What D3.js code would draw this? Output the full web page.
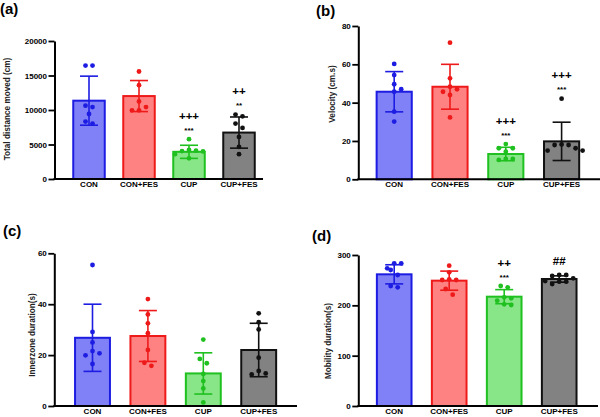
<!DOCTYPE html>
<html>
<head>
<meta charset="utf-8">
<script src="https://cdn.jsdelivr.net/npm/d3@7"></script>
<style>
  body { margin: 0; background: #fff; }
  svg { display: block; font-family: "Liberation Sans", Arial, sans-serif; }
</style>
</head>
<body>
<div id="viz"></div>
<script>
var groups = ["CON", "CON+FES", "CUP", "CUP+FES"];

// (a) total distance moved
var distMean = [11350, 12020, 3940, 6730];
var distSD = [3555, 2250, 950, 2260];
var distPoints = [
  [16440, 16440, 10625, 10430, 9420, 8320, 8030],
  [15577, 13600, 11250, 10430, 9950, 9950],
  [5770, 4200, 4100, 4050, 4000, 3600, 3000],
  [9330, 9090, 8030, 7400, 6100, 4660, 3600]
];
var distStars = ["", "", "***", "**"];
var distPlus = ["", "", "+++", "++"];
var distTicks = [0, 5000, 10000, 15000, 20000];

// (b) velocity
var velMean = [45.7, 48.3, 13.2, 19.8];
var velSD = [10.5, 11.7, 3.5, 10];
var velPoints = [
  [60.2, 54.4, 49.6, 47.0, 45.7, 35.3, 30.1],
  [71.3, 52.7, 48.3, 47.0, 45.7, 44.0, 32.3],
  [18.4, 16.2, 16.2, 14.4, 10.1, 10.6, 10.6],
  [42.1, 17.9, 18.2, 17.9, 15.0, 15.0, 16.2]
];
var velStars = ["", "", "***", "***"];
var velPlus = ["", "", "+++", "+++"];
var velTicks = [0, 20, 40, 60, 80];

// (c) innerzone duration
var innerMean = [26.8, 27.5, 12.8, 22.0];
var innerSD = [13.2, 10, 8.1, 10.5];
var innerPoints = [
  [55.4, 29.1, 25.0, 20.7, 21.6, 19.9, 16.5],
  [42.0, 36.0, 32.5, 28.6, 22.0, 15.8, 17.0],
  [26.1, 18.5, 16.8, 12.6, 9.8, 6.9, 1.4],
  [36.4, 32.9, 30.1, 19.0, 13.8, 12.4, 12.8]
];
var innerStars = ["", "", "", ""];
var innerPlus = ["", "", "", ""];
var innerTicks = [0, 20, 40, 60];

// (d) mobility duration
var mobMean = [261.6, 249, 217.2, 252.3];
var mobSD = [19, 19, 14, 6.3];
var mobPoints = [
  [283.4, 283.4, 273.5, 270.2, 260.3, 235.8, 238.4],
  [278.8, 265.6, 251.7, 250.3, 250.3, 232.5, 221.2],
  [235.8, 238.4, 215.9, 213.9, 209.3, 200.7, 202.0],
  [260.3, 260.3, 258.3, 253.6, 242.4, 247, 247, 248.3]
];
var mobStars = ["", "", "***", ""];
var mobPlus = ["", "", "++", "##"];
var mobTicks = [0, 100, 200, 300];

var fills = ["#8080f7", "#ff8282", "#88e688", "#828282"];
var strokes = ["#1c1ce2", "#ee1a1a", "#1fc01f", "#111111"];

var panels = [
  { tag: "(a)", mean: distMean, sd: distSD, pts: distPoints, stars: distStars, plus: distPlus, ticks: distTicks,
    title: "Total distance moved (cm)", x0: 54.5, x1: 263, band: [64, 264], yTop: 41, yBot: 179,
    titleX: 7, titleY: 109, tagX: 0, tagY: 14 },
  { tag: "(b)", mean: velMean, sd: velSD, pts: velPoints, stars: velStars, plus: velPlus, ticks: velTicks,
    title: "Velocity (cm.s)", x0: 358.3, x1: 600, band: [366.3, 589.5], yTop: 26, yBot: 179.3,
    titleX: 332, titleY: 94, tagX: 316, tagY: 16 },
  { tag: "(c)", mean: innerMean, sd: innerSD, pts: innerPoints, stars: innerStars, plus: innerPlus, ticks: innerTicks,
    title: "Innerzone duration(s)", x0: 54.3, x1: 297, band: [64.8, 286.4], yTop: 253.3, yBot: 406,
    titleX: 32.5, titleY: 335, tagX: 3, tagY: 236 },
  { tag: "(d)", mean: mobMean, sd: mobSD, pts: mobPoints, stars: mobStars, plus: mobPlus, ticks: mobTicks,
    title: "Mobility duration(s)", x0: 358.3, x1: 598, band: [366.7, 586.7], yTop: 255, yBot: 406,
    titleX: 328.5, titleY: 341, tagX: 312, tagY: 241 }
];

var svg = d3.select("#viz").append("svg")
  .attr("width", 600)
  .attr("height", 417);

// simple beeswarm, like the scatter of dots in GraphPad
function swarm(vals, y, s) {
  var order = vals.map(function (v) { return { v: v, py: y(v) }; })
    .sort(function (a, b) { return b.v - a.v; });
  var placed = [];
  order.forEach(function (p) {
    var cands = [0];
    for (var k = 1; k < 6; k++) cands.push(k * s, -k * s);
    for (var i = 0; i < cands.length; i++) {
      var c = cands[i];
      var hit = placed.some(function (q) {
        return Math.abs(q.dx - c) < s * 0.9 && Math.abs(q.py - p.py) < s * 0.9;
      });
      if (!hit) { p.dx = c; break; }
    }
    placed.push(p);
  });
  // centre pairs of side-by-side dots
  placed.forEach(function (p) {
    var row = placed.filter(function (q) { return Math.abs(q.py - p.py) < s * 0.9; });
    if (row.length == 2 && p.dx != 0 && row.every(function (q) { return q.dx == 0 || q == p; })) {
      row.forEach(function (q) { q.dx = q.dx == 0 ? -s / 2 : s / 2; });
    }
  });
  return placed;
}

function drawPanel(p) {
  var g = svg.append("g");
  var max = p.ticks[p.ticks.length - 1];
  var y = d3.scaleLinear().domain([0, max]).range([p.yBot, p.yTop]);
  var x = d3.scaleBand().domain(groups).range(p.band).paddingInner(0.37).paddingOuter(0.185);

  // bars
  g.selectAll("rect.bar").data(p.mean).enter().append("rect")
    .attr("x", function (d, i) { return x(groups[i]); })
    .attr("y", function (d) { return y(d); })
    .attr("width", x.bandwidth())
    .attr("height", function (d) { return p.yBot - y(d); })
    .attr("fill", function (d, i) { return fills[i]; })
    .attr("stroke", function (d, i) { return strokes[i]; })
    .attr("stroke-width", 2);

  // error bars
  var cap = 9;
  var eb = g.selectAll("g.err").data(p.mean).enter().append("g")
    .attr("stroke", function (d, i) { return strokes[i]; })
    .attr("stroke-width", 1.6);
  eb.append("line")
    .attr("x1", function (d, i) { return x(groups[i]) + x.bandwidth() / 2; })
    .attr("x2", function (d, i) { return x(groups[i]) + x.bandwidth() / 2; })
    .attr("y1", function (d, i) { return y(d - p.sd[i]); })
    .attr("y2", function (d, i) { return y(d + p.sd[i]); });
  [1, -1].forEach(function (sgn) {
    eb.append("line")
      .attr("x1", function (d, i) { return x(groups[i]) + x.bandwidth() / 2 - cap; })
      .attr("x2", function (d, i) { return x(groups[i]) + x.bandwidth() / 2 + cap; })
      .attr("y1", function (d, i) { return y(d + sgn * p.sd[i]); })
      .attr("y2", function (d, i) { return y(d + sgn * p.sd[i]); });
  });

  // dots
  p.pts.forEach(function (vals, i) {
    var cx = x(groups[i]) + x.bandwidth() / 2;
    g.selectAll(null).data(swarm(vals, y, 7)).enter().append("circle")
      .attr("cx", function (d) { return cx + d.dx; })
      .attr("cy", function (d) { return d.py; })
      .attr("r", 2.4)
      .attr("fill", strokes[i]);

    // significance marks
    var top = y(Math.max(d3.max(vals), p.mean[i] + p.sd[i]));
    var plusCentre = top - 14;
    if (p.stars[i]) {
      var starCentre = top - 11;
      g.append("text").attr("x", cx).attr("y", starCentre + 4.6)
        .attr("text-anchor", "middle").attr("font-size", 8).attr("font-weight", "bold")
        .text(p.stars[i]);
      plusCentre = starCentre - 12.5;
    }
    if (p.plus[i]) {
      g.append("text").attr("x", cx).attr("y", plusCentre + 4)
        .attr("text-anchor", "middle").attr("font-size", 11.5).attr("font-weight", "bold")
        .text(p.plus[i]);
    }
  });

  // y axis
  var ya = g.append("g")
    .attr("transform", "translate(" + p.x0 + ",0)")
    .call(d3.axisLeft(y).tickValues(p.ticks).tickSize(6).tickSizeOuter(0).tickPadding(1.5).tickFormat(d3.format("d")));
  ya.select(".domain").attr("stroke-width", 2);
  ya.selectAll(".tick line").attr("stroke-width", 1.8);
  ya.selectAll(".tick text").attr("font-size", 8).attr("font-weight", "bold")
    .attr("font-family", "'Liberation Sans', Arial, sans-serif").attr("fill", "#000");

  // x axis
  g.append("line")
    .attr("x1", p.x0 - 1).attr("x2", p.x1)
    .attr("y1", p.yBot).attr("y2", p.yBot)
    .attr("stroke", "#000").attr("stroke-width", 2);
  var xa = g.append("g")
    .attr("transform", "translate(0," + p.yBot + ")")
    .call(d3.axisBottom(x).tickSize(0).tickPadding(2.5));
  xa.select(".domain").remove();
  xa.selectAll(".tick text").attr("font-size", 8).attr("font-weight", "bold")
    .attr("font-family", "'Liberation Sans', Arial, sans-serif").attr("fill", "#000");

  // titles
  g.append("text")
    .attr("transform", "translate(" + p.titleX + "," + p.titleY + ") rotate(-90)")
    .attr("text-anchor", "middle")
    .attr("dy", "0.35em")
    .attr("font-size", 8.2)
    .attr("font-weight", "bold")
    .attr("fill", "#222")
    .text(p.title);
  g.append("text")
    .attr("x", p.tagX).attr("y", p.tagY)
    .attr("font-size", 15).attr("font-weight", "bold")
    .text(p.tag);
}

panels.forEach(drawPanel);
</script>
</body>
</html>
